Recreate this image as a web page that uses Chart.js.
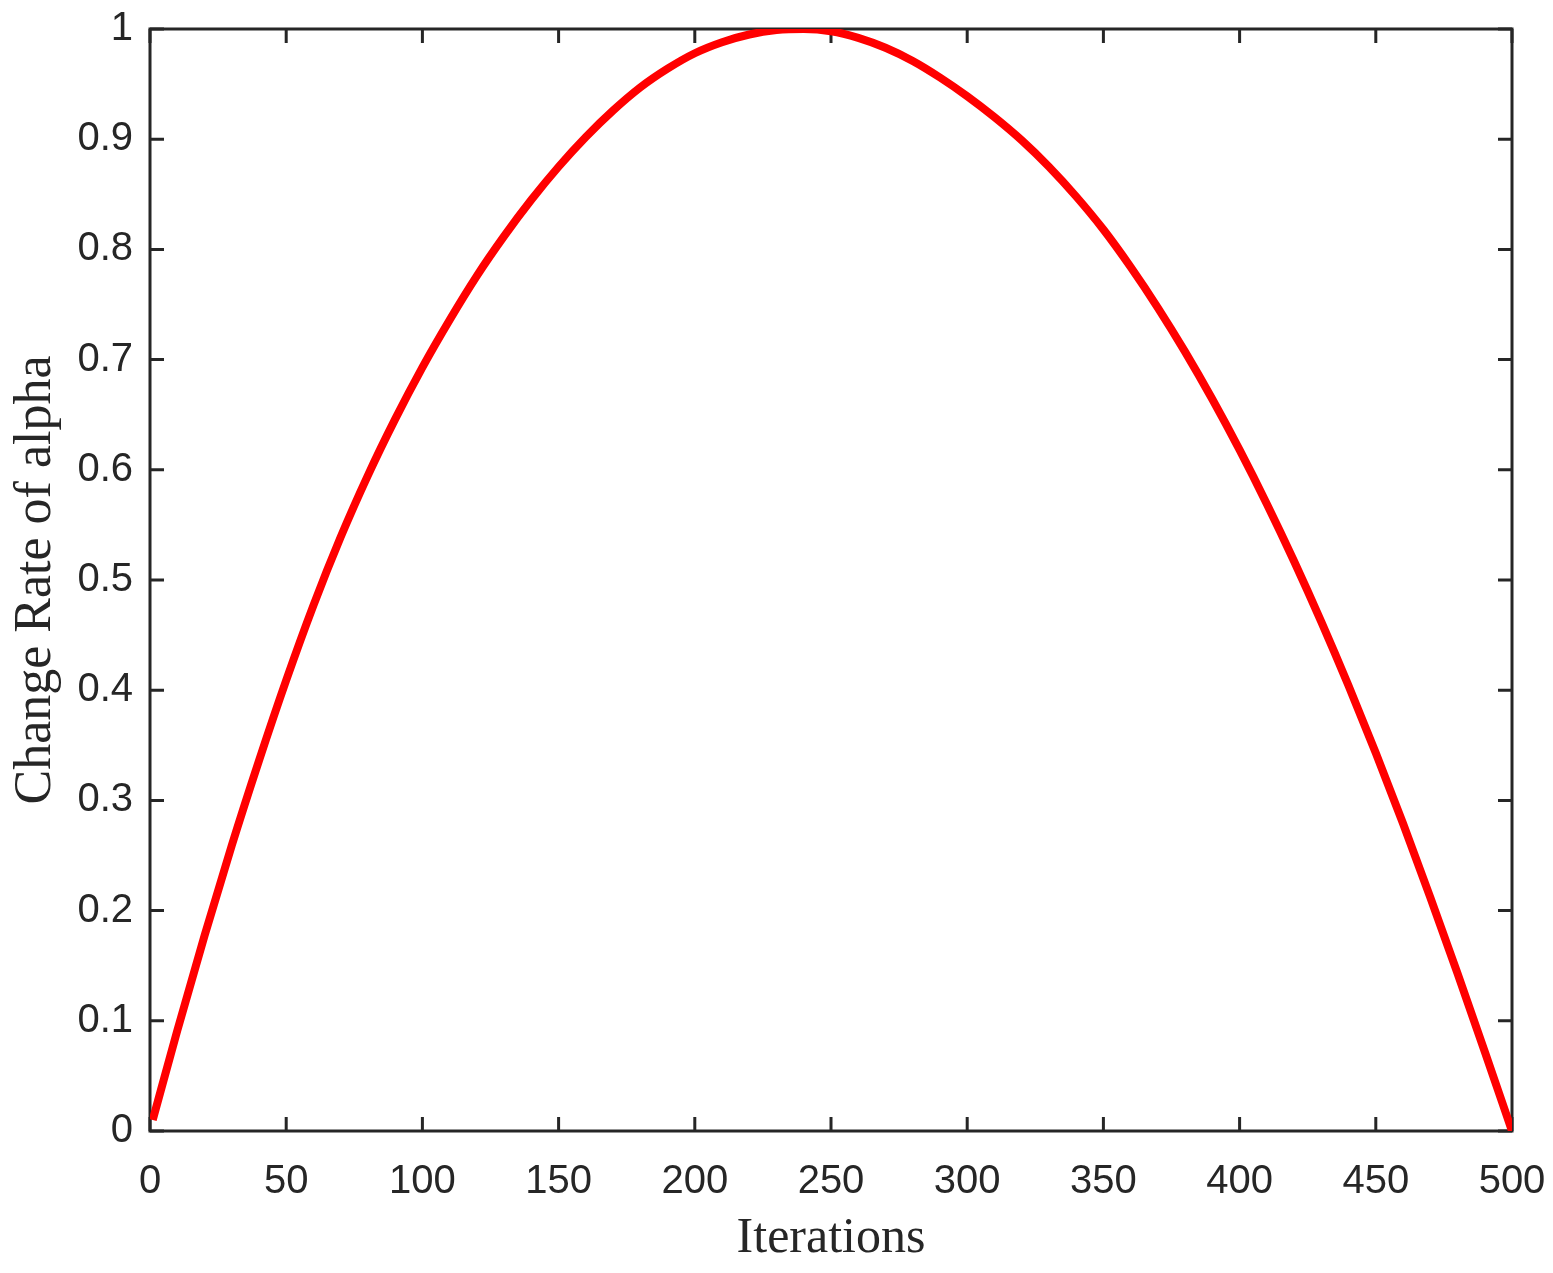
<!DOCTYPE html>
<html>
<head>
<meta charset="utf-8">
<title>Change Rate of alpha</title>
<script src="https://cdn.jsdelivr.net/npm/chart.js@4.4.1/dist/chart.umd.min.js"></script>
<style>
  html, body { margin: 0; padding: 0; background: #ffffff; }
  #wrap { width: 1553px; height: 1273px; }
</style>
</head>
<body>
<div id="wrap"><canvas id="myChart" width="1553" height="1273"></canvas></div>
<script>
// ==============Data==============
const iterations = [
  1, 10, 20, 30, 40, 50, 60, 70, 80, 90, 100,
  110, 120, 130, 140, 150, 160, 170, 180, 190, 200,
  210, 220, 230, 240, 250, 260, 270, 280, 290, 300,
  310, 320, 330, 340, 350, 360, 370, 380, 390, 400,
  410, 420, 430, 440, 450, 460, 470, 480, 490, 500
];
const changeRate = [
  0.01, 0.091, 0.177, 0.259, 0.336, 0.409, 0.477, 0.539, 0.595, 0.646, 0.693,
  0.736, 0.776, 0.812, 0.845, 0.875, 0.902, 0.926, 0.947, 0.964, 0.978,
  0.988, 0.995, 0.999, 1.0, 0.998, 0.992, 0.983, 0.971, 0.956, 0.939,
  0.920, 0.899, 0.875, 0.848, 0.818, 0.784, 0.747, 0.707, 0.664, 0.618,
  0.569, 0.517, 0.462, 0.404, 0.343, 0.279, 0.212, 0.143, 0.072, 0.0
];
const xTicks = [0, 50, 100, 150, 200, 250, 300, 350, 400, 450, 500];
const yTicks = [0, 0.1, 0.2, 0.3, 0.4, 0.5, 0.6, 0.7, 0.8, 0.9, 1];

const axisColor = "#262626";
const lineColor = "#ff0000";
const tickLen = 14;

function get_points(xs, ys) {
  return xs.map((x, i) => ({ x: x, y: ys[i] }));
}

// labels may hang over the plot edges, keep the plot box where it is
function noScalePadding(scale) {
  scale.paddingLeft = 0;
  scale.paddingRight = 0;
  scale.paddingTop = 0;
  scale.paddingBottom = 0;
}

// box around the plot with inward ticks on all four sides (matlab style)
const boxTicks = {
  id: "boxTicks",
  beforeDatasetsDraw(chart) {
    const { ctx, chartArea: a, scales } = chart;
    const sx = scales.x;
    const sy = scales.y;
    ctx.save();
    ctx.strokeStyle = axisColor;
    ctx.lineWidth = 3;
    ctx.beginPath();
    xTicks.forEach((v) => {
      const px = sx.getPixelForValue(v);
      ctx.moveTo(px, a.bottom);
      ctx.lineTo(px, a.bottom - tickLen);
      ctx.moveTo(px, a.top);
      ctx.lineTo(px, a.top + tickLen);
    });
    yTicks.forEach((v) => {
      const py = sy.getPixelForValue(v);
      ctx.moveTo(a.left, py);
      ctx.lineTo(a.left + tickLen, py);
      ctx.moveTo(a.right, py);
      ctx.lineTo(a.right - tickLen, py);
    });
    ctx.stroke();
    ctx.strokeRect(a.left, a.top, a.right - a.left, a.bottom - a.top);
    ctx.restore();
  },
};

const tickFont = { family: "'Liberation Sans', Arial, sans-serif", size: 40 };
const titleFamily = "'Liberation Serif', 'Times New Roman', serif";

const ctx = document.getElementById("myChart").getContext("2d");
const mychart = new Chart(ctx, {
  type: "line",
  data: {
    datasets: [
      {
        label: "Change Rate of alpha",
        data: get_points(iterations, changeRate),
        borderColor: lineColor,
        borderWidth: 8,
        pointRadius: 0,
        fill: false,
        cubicInterpolationMode: "monotone",
      },
    ],
  },
  options: {
    responsive: false,
    animation: false,
    devicePixelRatio: 1,
    layout: { padding: { top: 29, right: 41, left: 0, bottom: 0 } },
    plugins: { legend: { display: false }, tooltip: { enabled: false } },
    scales: {
      x: {
        type: "linear",
        min: 0,
        max: 500,
        afterFit: (scale) => {
          scale.height = 142;
          noScalePadding(scale);
        },
        afterBuildTicks: (scale) => { scale.ticks = xTicks.map((v) => ({ value: v })); },
        grid: { display: false, drawTicks: false },
        border: { display: false },
        ticks: {
          color: axisColor,
          font: tickFont,
          padding: 27,
          maxRotation: 0,
          callback: (v) => String(v),
        },
        title: {
          display: true,
          text: "Iterations",
          color: axisColor,
          font: { family: titleFamily, size: 50, lineHeight: 1 },
          padding: { top: 0, bottom: 9 },
        },
      },
      y: {
        type: "linear",
        min: 0,
        max: 1,
        afterFit: (scale) => {
          scale.width = 150;
          noScalePadding(scale);
        },
        afterBuildTicks: (scale) => { scale.ticks = yTicks.map((v) => ({ value: v })); },
        grid: { display: false, drawTicks: false },
        border: { display: false },
        ticks: {
          color: axisColor,
          font: tickFont,
          padding: 17,
          callback: (v) => String(+v.toFixed(1)),
        },
        title: {
          display: true,
          text: "Change Rate of alpha",
          color: axisColor,
          font: { family: titleFamily, size: 52, lineHeight: 1 },
          padding: { top: 10, bottom: 0 },
        },
      },
    },
  },
  plugins: [boxTicks],
});
</script>
</body>
</html>
